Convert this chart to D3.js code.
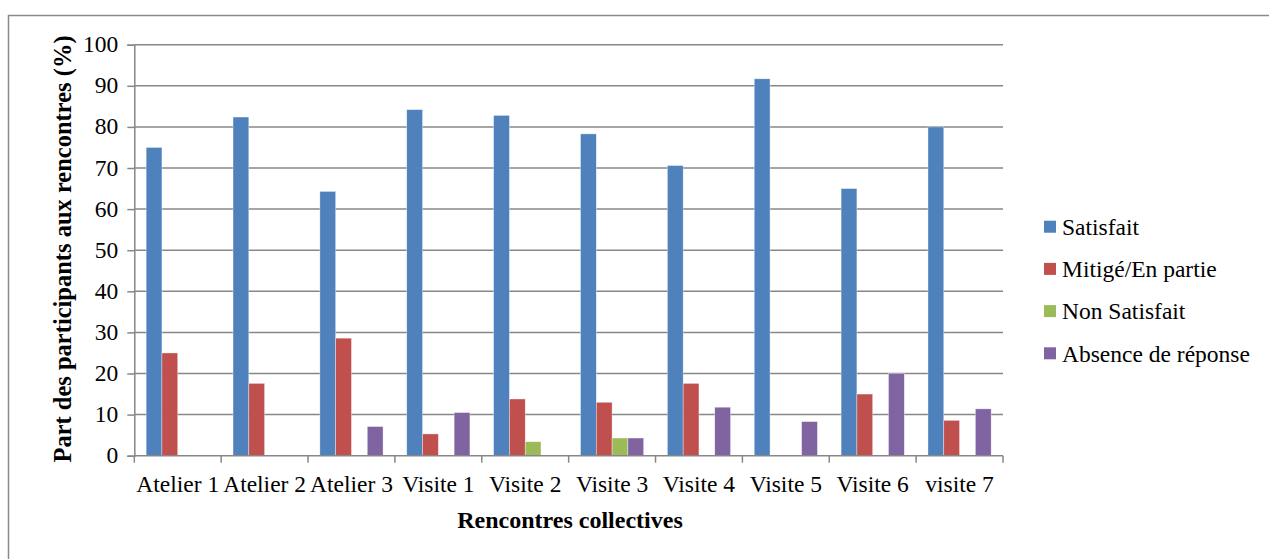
<!DOCTYPE html>
<html><head><meta charset="utf-8">
<script src="https://cdn.jsdelivr.net/npm/d3@7"></script>
<style>
html,body{margin:0;padding:0;background:#fff;}
svg{display:block;}
svg text{font-family:"Liberation Serif","Times New Roman",serif !important;fill:#000;}
</style></head>
<body>
<svg id="chart" width="1269" height="559"></svg>
<script>
const categories = ["Atelier 1","Atelier 2","Atelier 3","Visite 1","Visite 2","Visite 3","Visite 4","Visite 5","Visite 6","visite 7"];
const seriesNames = ["Satisfait","Mitigé/En partie","Non Satisfait","Absence de réponse"];
const satisfait = [75, 82.4, 64.3, 84.2, 82.8, 78.3, 70.6, 91.7, 65, 80];
const mitige    = [25, 17.6, 28.6, 5.3, 13.8, 13.0, 17.6, 0, 15, 8.6];
const nonSatisfait = [0, 0, 0, 0, 3.4, 4.3, 0, 0, 0, 0];
const absence   = [0, 0, 7.1, 10.5, 0, 4.3, 11.8, 8.3, 20, 11.4];
const yTicks = [0,10,20,30,40,50,60,70,80,90,100];
const colors = ["#4F81BD","#C0504D","#9BBB59","#8064A2"];
const seriesValues = [satisfait, mitige, nonSatisfait, absence];

const svg = d3.select("#chart");
const FS = 23.5;
const FF = "'Liberation Serif','Times New Roman',serif";

// outer border
svg.append("rect").attr("x",8.5).attr("y",15.5).attr("width",1300).attr("height",600)
  .attr("fill","none").attr("stroke","#8a8a8a").attr("stroke-width",1.5);

const x0 = 134.3, x1 = 1003, yTop = 44.7, yBot = 455.7;
const x = d3.scaleBand().domain(categories).range([x0, x1]).padding(0);
const xs = d3.scaleBand().domain(seriesNames).range([0, x.bandwidth()]).paddingInner(0).paddingOuter(0.75);
const y = d3.scaleLinear().domain([0,100]).range([yBot, yTop]);

// gridlines
svg.append("g").selectAll("line").data(yTicks.filter(d=>d>0)).join("line")
  .attr("x1", x0).attr("x2", x1).attr("y1", d=>y(d)).attr("y2", d=>y(d))
  .attr("stroke","#878787").attr("stroke-width",1.5);

// y axis
const yAxis = d3.axisLeft(y).tickValues(yTicks).tickSize(7).tickPadding(9).tickFormat(d3.format("d"));
const gy = svg.append("g").attr("transform",`translate(${x0},0)`).call(yAxis)
  .attr("font-family", FF).attr("font-size", FS);
gy.select(".domain").attr("stroke","#878787").attr("stroke-width",1.5);
gy.selectAll(".tick line").attr("stroke","#878787").attr("stroke-width",1.5);
gy.selectAll(".tick text").style("font-family",FF).style("font-size",FS+"px").attr("fill","#000").attr("dy","0.3em");

// bars
const groups = svg.append("g").selectAll("g").data(categories).join("g")
  .attr("transform", d=>`translate(${x(d)},0)`);
groups.selectAll("rect").data((c,i)=>seriesNames.map((s,j)=>({s, j, v: seriesValues[j][i]})).filter(d=>d.v>0)).join("rect")
  .attr("x", d=>xs(d.s)).attr("width", xs.bandwidth())
  .attr("y", d=>y(d.v)).attr("height", d=>y(0)-y(d.v))
  .attr("fill", d=>colors[d.j])
  .attr("stroke","rgba(255,255,255,0.6)").attr("stroke-width",0.6);

// x axis
const xAxisTicks = categories.map((c)=>x(c)).concat([x1]);
const gx = svg.append("g");
gx.append("line").attr("x1",x0).attr("x2",x1).attr("y1",yBot).attr("y2",yBot).attr("stroke","#878787").attr("stroke-width",1.5);
gx.selectAll("line.t").data(xAxisTicks).join("line").attr("class","t")
  .attr("x1",d=>d).attr("x2",d=>d).attr("y1",yBot).attr("y2",yBot+7)
  .attr("stroke","#878787").attr("stroke-width",1.5);
gx.selectAll("text").data(categories).join("text")
  .attr("x", d=>x(d)+x.bandwidth()/2).attr("y", 492)
  .attr("text-anchor","middle").style("font-family",FF).style("font-size",FS+"px").text(d=>d);

// axis titles
svg.append("text").attr("x",570).attr("y",528).attr("text-anchor","middle")
  .style("font-family",FF).style("font-size","24px").attr("font-weight","bold").text("Rencontres collectives");
svg.append("text").attr("transform","translate(71,249) rotate(-90)").attr("text-anchor","middle")
  .style("font-family",FF).style("font-size","24.5px").attr("font-weight","bold").text("Part des participants aux rencontres (%)");

// legend
const lg = svg.append("g").selectAll("g").data(seriesNames).join("g")
  .attr("transform",(d,i)=>`translate(1044,${226.7 + i*42.2})`);
lg.append("rect").attr("x",0).attr("y",-6).attr("width",12).attr("height",12).attr("fill",(d,i)=>colors[i]);
lg.append("text").attr("x",18).attr("y",8.3).style("font-family",FF).style("font-size",FS+"px").text(d=>d);
</script>
</body></html>
